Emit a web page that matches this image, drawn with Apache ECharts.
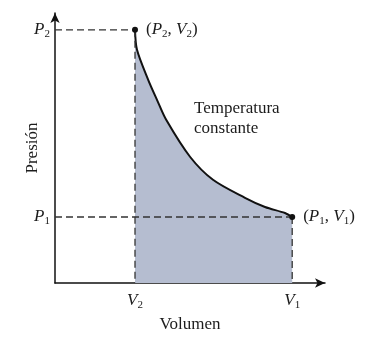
<!DOCTYPE html>
<html>
<head>
<meta charset="utf-8">
<script src="https://cdn.jsdelivr.net/npm/echarts@6/dist/echarts.min.js"></script>
<style>
  html, body { margin: 0; padding: 0; background: #ffffff; }
  #chart { width: 379px; height: 339px; }
</style>
</head>
<body>
<div id="chart"></div>
<script>
// Isothermal curve: volume (x) and pressure (y) in arbitrary units
const volume   = [2.00, 2.05, 2.33, 2.55, 2.78, 3.38, 3.95, 4.75, 5.25, 5.75, 5.93];
const pressure = [6.33, 5.83, 5.08, 4.58, 4.08, 3.15, 2.58, 2.13, 1.90, 1.75, 1.65];

// Symbolic tick labels: letter + subscript
const xTickSub = ['2', '1'];   // V2 at start volume, V1 at end volume
const yTickSub = ['2', '1'];   // P2 at start pressure, P1 at end pressure
const stateLabels = [['2', '2'], ['1', '1']];  // (P_a, V_b) subscripts
const curveNote = ['Temperatura', 'constante'];

const V2 = volume[0], V1 = volume[volume.length - 1];
const P2 = pressure[0], P1 = pressure[pressure.length - 1];

const FONT = '"Liberation Serif", "DejaVu Serif", serif';
const INK = '#1c1c1c';
const rich = {
  i: { fontFamily: FONT, fontStyle: 'italic', fontSize: 17, color: INK, lineHeight: 20 },
  n: { fontFamily: FONT, fontSize: 17, color: INK, lineHeight: 20 },
  s: { fontFamily: FONT, fontSize: 11, color: INK, lineHeight: 11, verticalAlign: 'bottom' }
};

const dashStyle = { color: '#333', width: 1.3, type: [7, 4] };
const dashed = (pts) => ({
  type: 'line', data: pts, symbol: 'none', silent: true,
  lineStyle: dashStyle, z: 3
});

const chart = echarts.init(document.getElementById('chart'), null, { renderer: 'canvas' });
chart.setOption({
  animation: false,
  backgroundColor: '#ffffff',
  title: {
    text: curveNote.join('\n'),
    left: 189, top: 94,
    textStyle: { fontFamily: FONT, fontSize: 17, fontWeight: 'normal', color: INK, lineHeight: 20 }
  },
  grid: { left: 55, right: 54, top: 13, bottom: 56 },
  xAxis: {
    type: 'value', min: 0, max: 6.75,
    splitLine: { show: false },
    axisTick: { show: false },
    axisLine: { show: true, onZero: false, symbol: ['none', 'arrow'], symbolSize: [7, 10],
      lineStyle: { color: '#111', width: 1.5 } },
    axisLabel: {
      customValues: [V2, V1], margin: 8,
      formatter: (v) => '{i|V}{s|' + (v === V2 ? xTickSub[0] : xTickSub[1]) + '}',
      rich: rich
    },
    name: 'Volumen', nameLocation: 'middle', nameGap: 29,
    nameTextStyle: { fontFamily: FONT, fontSize: 17, color: INK }
  },
  yAxis: {
    type: 'value', min: 0, max: 6.75,
    splitLine: { show: false },
    axisTick: { show: false },
    axisLine: { show: true, onZero: false, symbol: ['none', 'arrow'], symbolSize: [7, 10],
      lineStyle: { color: '#111', width: 1.5 } },
    axisLabel: {
      customValues: [P1, P2], margin: 5,
      formatter: (v) => '{i|P}{s|' + (v === P2 ? yTickSub[0] : yTickSub[1]) + '}',
      rich: rich
    },
    name: 'Presión', nameLocation: 'middle', nameGap: 14, nameRotate: 90,
    nameMoveOverlap: false,
    nameTextStyle: { fontFamily: FONT, fontSize: 17, color: INK }
  },
  series: [
    {
      type: 'line',
      data: volume.map((v, k) => [v, pressure[k]]),
      smooth: 0.3, symbol: 'none',
      lineStyle: { color: '#111', width: 2 },
      areaStyle: { color: '#b5bdd0', opacity: 1, origin: 'start' },
      z: 2
    },
    dashed([[0, P2], [V2, P2]]),
    dashed([[V2, P2], [V2, 0]]),
    dashed([[0, P1], [V1, P1]]),
    dashed([[V1, P1], [V1, 0]]),
    {
      type: 'scatter',
      data: [[V2, P2], [V1, P1]],
      symbol: 'circle', symbolSize: 6,
      itemStyle: { color: '#111', opacity: 1 },
      z: 5,
      label: {
        show: true, position: 'right', distance: 8, color: INK, opacity: 1,
        formatter: (p) => {
          const sub = stateLabels[p.dataIndex];
          return '{n|(}{i|P}{s|' + sub[0] + '}{n|, }{i|V}{s|' + sub[1] + '}{n|)}';
        },
        rich: rich
      }
    }
  ]
});
</script>
</body>
</html>
